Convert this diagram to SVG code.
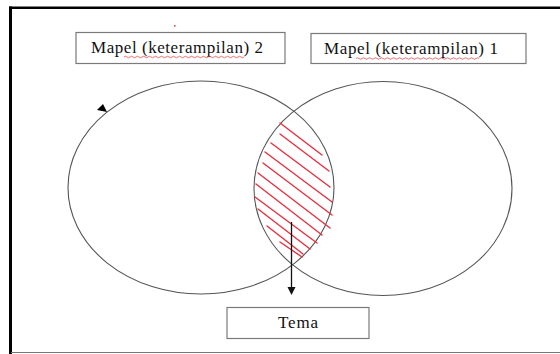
<svg xmlns="http://www.w3.org/2000/svg" width="560" height="354" viewBox="0 0 560 354">
<style>
.box{fill:#fff;stroke:#7a7a7a;stroke-width:1.2}
.lbl{font-family:"Liberation Serif","Times New Roman",serif;font-size:17px;fill:#111}
.ell{fill:none;stroke:#555;stroke-width:1.1}
.hatch{stroke:#e8303f;stroke-width:1.4;stroke-linecap:round}
.sq{fill:none;stroke:#e84a4a;stroke-width:0.8}
</style>
<rect width="560" height="354" fill="#fff"/>
<!-- frame -->
<line x1="10.5" y1="6.5" x2="10.5" y2="354" stroke="#000" stroke-width="3"/>
<line x1="9" y1="7.8" x2="560" y2="7.8" stroke="#000" stroke-width="2.4"/>
<line x1="11" y1="352.5" x2="560" y2="352.5" stroke="#777" stroke-width="1.2"/>
<rect x="174" y="25" width="1.6" height="1.6" fill="#e84a4a"/>

<g id="mapel2">
<rect class="box" x="76" y="32.5" width="209" height="31"/>
<text class="lbl" x="91" y="52.5" textLength="172" lengthAdjust="spacing">Mapel (keterampilan) 2</text>
<path class="sq" d="M124,57 q1.5,-1.5 3,0 t3,0 t3,0 t3,0 t3,0 t3,0 t3,0 t3,0 t3,0 t3,0 t3,0 t3,0 t3,0 t3,0 t3,0 t3,0 t3,0 t3,0 t3,0 t3,0 t3,0 t3,0 t3,0 t3,0 t3,0 t3,0 t3,0 t3,0 t3,0 t3,0 t3,0 t3,0 t3,0 t3,0 t3,0 t3,0 t3,0 t3,0 t3,0 t3,0"/>
</g>

<g id="mapel1">
<rect class="box" x="311" y="33.5" width="215" height="30"/>
<text class="lbl" x="324" y="54" textLength="174" lengthAdjust="spacing">Mapel (keterampilan) 1</text>
<path class="sq" d="M356,58.5 q1.5,-1.5 3,0 t3,0 t3,0 t3,0 t3,0 t3,0 t3,0 t3,0 t3,0 t3,0 t3,0 t3,0 t3,0 t3,0 t3,0 t3,0 t3,0 t3,0 t3,0 t3,0 t3,0 t3,0 t3,0 t3,0 t3,0 t3,0 t3,0 t3,0 t3,0 t3,0 t3,0 t3,0 t3,0 t3,0 t3,0 t3,0 t3,0 t3,0 t3,0 t3,0 t3,0"/>
</g>

<g id="left-ellipse">
<ellipse class="ell" cx="201" cy="187.5" rx="133" ry="106.5"/>
<polygon points="97,110 103,104 107,112" fill="#000"/>
</g>

<g id="right-ellipse">
<ellipse class="ell" cx="383" cy="188.5" rx="129" ry="107"/>
</g>

<g id="intersection">
<line class="hatch" x1="280" y1="123" x2="322" y2="155"/>
<line class="hatch" x1="280" y1="134" x2="329" y2="171"/>
<line class="hatch" x1="271" y1="143" x2="330" y2="187"/>
<line class="hatch" x1="265" y1="152" x2="332" y2="202"/>
<line class="hatch" x1="263" y1="163" x2="332" y2="215"/>
<line class="hatch" x1="258" y1="173" x2="330" y2="228"/>
<line class="hatch" x1="256" y1="184" x2="322" y2="235"/>
<line class="hatch" x1="255" y1="197" x2="317" y2="243"/>
<line class="hatch" x1="258" y1="209" x2="310" y2="249"/>
<line class="hatch" x1="267" y1="226" x2="303" y2="254"/>
<line class="hatch" x1="280" y1="242" x2="302" y2="257"/>
</g>

<g id="connectors">
<line x1="291.5" y1="222" x2="291.5" y2="289" stroke="#111" stroke-width="1.3"/>
<polygon points="287.5,287 295.5,287 291.5,295" fill="#111"/>
</g>

<g id="tema">
<rect class="box" x="227" y="307.5" width="142" height="31"/>
<text class="lbl" x="278" y="327.5" textLength="40" lengthAdjust="spacing">Tema</text>
</g>
</svg>
